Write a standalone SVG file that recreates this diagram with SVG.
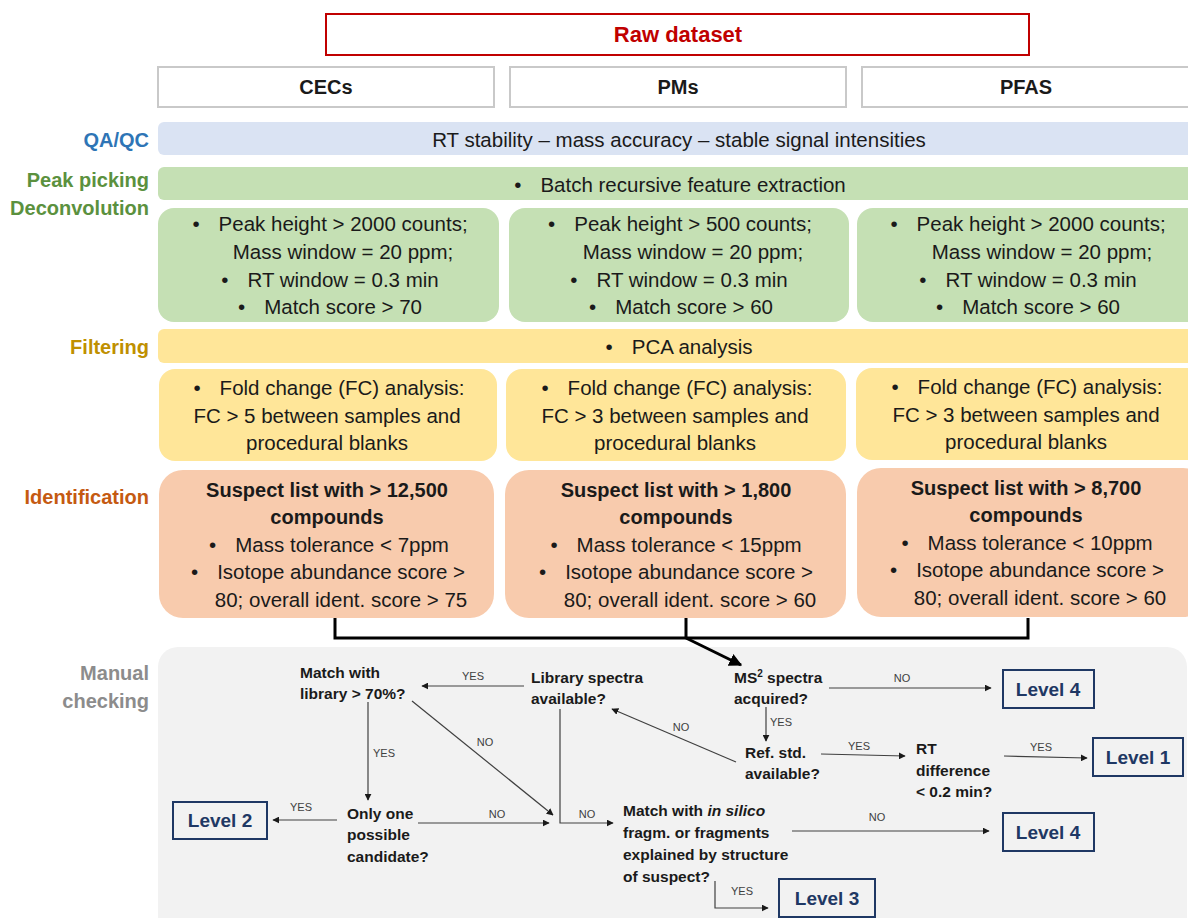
<svg xmlns="http://www.w3.org/2000/svg" width="1188" height="918" viewBox="0 0 1188 918">
<defs>
<style>
text{font-family:"Liberation Sans",Arial,sans-serif;fill:#1a1a1a}
.side{font-size:20px;font-weight:bold;text-anchor:end}
.hdr{font-size:20px;font-weight:bold;text-anchor:middle}
.body{font-size:20.5px;text-anchor:middle}
.bold{font-size:20px;font-weight:bold;text-anchor:middle}
.q{font-size:15.5px;font-weight:bold}
.lbl{font-size:11px;fill:#404040;text-anchor:middle}
.lvl{font-size:19px;font-weight:bold;fill:#1f3864;text-anchor:middle}
.lvbox{fill:none;stroke:#1f3864;stroke-width:2}
.hbox{fill:#fff;stroke:#c9c9c9;stroke-width:2}
.ln{fill:none;stroke:#404040;stroke-width:1.2}
</style>
<marker id="ah" viewBox="0 0 10 10" refX="9" refY="5" markerWidth="7" markerHeight="7" markerUnits="userSpaceOnUse" orient="auto">
<path d="M0,0 L10,5 L0,10 z" fill="#1a1a1a"/>
</marker>
<marker id="ahb" viewBox="0 0 10 10" refX="9" refY="5" markerWidth="13" markerHeight="13" markerUnits="userSpaceOnUse" orient="auto">
<path d="M0,0 L10,5 L0,10 z" fill="#000"/>
</marker>
</defs>
<rect width="1188" height="918" fill="#fff"/>

<!-- side labels -->
<g id="side-labels">
<text class="side" x="149" y="147" style="fill:#2e75b6">QA/QC</text>
<text class="side" x="149" y="187" style="fill:#5b913e">Peak picking</text>
<text class="side" x="149" y="215" style="fill:#5b913e">Deconvolution</text>
<text class="side" x="149" y="354" style="fill:#bf9000">Filtering</text>
<text class="side" x="149" y="504" style="fill:#c55a11">Identification</text>
<text class="side" x="149" y="680" style="fill:#8c8c8c">Manual</text>
<text class="side" x="149" y="708" style="fill:#8c8c8c">checking</text>
</g>

<g id="raw-dataset">
<rect x="326" y="14" width="703" height="41" fill="#fff" stroke="#c00000" stroke-width="2"/>
<text x="678" y="42" text-anchor="middle" style="font-size:22px;font-weight:bold;fill:#c00000">Raw dataset</text>
</g>

<g id="hdr-cecs"><rect class="hbox" x="158" y="67" width="336" height="40"/><text class="hdr" x="326" y="94">CECs</text></g>
<g id="hdr-pms"><rect class="hbox" x="510" y="67" width="336" height="40"/><text class="hdr" x="678" y="94">PMs</text></g>
<g id="hdr-pfas"><rect class="hbox" x="862" y="67" width="340" height="40"/><text class="hdr" x="1026" y="94">PFAS</text></g>

<g id="qaqc">
<rect x="158" y="122" width="1050" height="33" rx="6" fill="#dae3f3"/>
<text class="body" x="679" y="147">RT stability – mass accuracy – stable signal intensities</text>
</g>

<g id="batch">
<rect x="158" y="167" width="1050" height="33" rx="6" fill="#c5e0b4"/>
<text class="body" x="680" y="192">•<tspan dx="19">Batch recursive feature extraction</tspan></text>
</g>

<g id="peak-cecs">
<rect x="158" y="208" width="341" height="114" rx="16" fill="#c5e0b4"/>
<text class="body" x="330" y="231">•<tspan dx="19">Peak height &gt; 2000 counts;</tspan></text>
<text class="body" x="343" y="259">Mass window = 20 ppm;</text>
<text class="body" x="330" y="287">•<tspan dx="19">RT window = 0.3 min</tspan></text>
<text class="body" x="330" y="314">•<tspan dx="19">Match score &gt; 70</tspan></text>
</g>
<g id="peak-pms">
<rect x="509" y="208" width="340" height="114" rx="16" fill="#c5e0b4"/>
<text class="body" x="680" y="231">•<tspan dx="19">Peak height &gt; 500 counts;</tspan></text>
<text class="body" x="693" y="259">Mass window = 20 ppm;</text>
<text class="body" x="679" y="287">•<tspan dx="19">RT window = 0.3 min</tspan></text>
<text class="body" x="681" y="314">•<tspan dx="19">Match score &gt; 60</tspan></text>
</g>
<g id="peak-pfas">
<rect x="857" y="208" width="350" height="114" rx="16" fill="#c5e0b4"/>
<text class="body" x="1028" y="231">•<tspan dx="19">Peak height &gt; 2000 counts;</tspan></text>
<text class="body" x="1042" y="259">Mass window = 20 ppm;</text>
<text class="body" x="1028" y="287">•<tspan dx="19">RT window = 0.3 min</tspan></text>
<text class="body" x="1028" y="314">•<tspan dx="19">Match score &gt; 60</tspan></text>
</g>

<g id="pca">
<rect x="158" y="329" width="1050" height="34" rx="6" fill="#ffe699"/>
<text class="body" x="679" y="354">•<tspan dx="19">PCA analysis</tspan></text>
</g>

<g id="fc-cecs">
<rect x="159" y="369" width="338" height="92" rx="16" fill="#ffe699"/>
<text class="body" x="329" y="395">•<tspan dx="19">Fold change (FC) analysis:</tspan></text>
<text class="body" x="327" y="423">FC &gt; 5 between samples and</text>
<text class="body" x="327" y="450">procedural blanks</text>
</g>
<g id="fc-pms">
<rect x="506" y="369" width="340" height="92" rx="16" fill="#ffe699"/>
<text class="body" x="677" y="395">•<tspan dx="19">Fold change (FC) analysis:</tspan></text>
<text class="body" x="675" y="423">FC &gt; 3 between samples and</text>
<text class="body" x="675" y="450">procedural blanks</text>
</g>
<g id="fc-pfas">
<rect x="856" y="368" width="350" height="92" rx="16" fill="#ffe699"/>
<text class="body" x="1027" y="394">•<tspan dx="19">Fold change (FC) analysis:</tspan></text>
<text class="body" x="1026" y="422">FC &gt; 3 between samples and</text>
<text class="body" x="1026" y="449">procedural blanks</text>
</g>

<g id="id-cecs">
<rect x="159" y="470" width="335" height="148" rx="24" fill="#f8cbad"/>
<text class="bold" x="327" y="497">Suspect list with &gt; 12,500</text>
<text class="bold" x="327" y="524">compounds</text>
<text class="body" x="329" y="552">•<tspan dx="19">Mass tolerance &lt; 7ppm</tspan></text>
<text class="body" x="328" y="579">•<tspan dx="19">Isotope abundance score &gt;</tspan></text>
<text class="body" x="341" y="607">80; overall ident. score &gt; 75</text>
</g>
<g id="id-pms">
<rect x="505" y="470" width="341" height="148" rx="24" fill="#f8cbad"/>
<text class="bold" x="676" y="497">Suspect list with &gt; 1,800</text>
<text class="bold" x="676" y="524">compounds</text>
<text class="body" x="676" y="552">•<tspan dx="19">Mass tolerance &lt; 15ppm</tspan></text>
<text class="body" x="676" y="579">•<tspan dx="19">Isotope abundance score &gt;</tspan></text>
<text class="body" x="690" y="607">80; overall ident. score &gt; 60</text>
</g>
<g id="id-pfas">
<rect x="857" y="468" width="350" height="149" rx="24" fill="#f8cbad"/>
<text class="bold" x="1026" y="495">Suspect list with &gt; 8,700</text>
<text class="bold" x="1026" y="522">compounds</text>
<text class="body" x="1027" y="550">•<tspan dx="19">Mass tolerance &lt; 10ppm</tspan></text>
<text class="body" x="1027" y="577">•<tspan dx="19">Isotope abundance score &gt;</tspan></text>
<text class="body" x="1040" y="605">80; overall ident. score &gt; 60</text>
</g>

<g id="manual-panel">
<rect x="158" y="647" width="1029" height="300" rx="20" fill="#f2f2f2"/>
</g>

<g id="connectors">
<path d="M335,618 V638 H1028 V618 M686,618 V638" fill="none" stroke="#000" stroke-width="3"/>
<line x1="686" y1="638" x2="741" y2="665" stroke="#000" stroke-width="3" marker-end="url(#ahb)"/>
<line class="ln" x1="524" y1="686" x2="422" y2="686" marker-end="url(#ah)"/>
<line class="ln" x1="368" y1="702" x2="368" y2="800" marker-end="url(#ah)"/>
<line class="ln" x1="412" y1="701" x2="553" y2="815" marker-end="url(#ah)"/>
<line class="ln" x1="337" y1="820" x2="273" y2="820" marker-end="url(#ah)"/>
<line class="ln" x1="418" y1="823" x2="549" y2="823" marker-end="url(#ah)"/>
<path class="ln" d="M560,709 V823 H613" marker-end="url(#ah)"/>
<line class="ln" x1="829" y1="688" x2="991" y2="688" marker-end="url(#ah)"/>
<line class="ln" x1="766" y1="707" x2="766" y2="741" marker-end="url(#ah)"/>
<line class="ln" x1="736" y1="762" x2="612" y2="709" marker-end="url(#ah)"/>
<line class="ln" x1="821" y1="754" x2="905" y2="756" marker-end="url(#ah)"/>
<line class="ln" x1="1004" y1="756" x2="1087" y2="758" marker-end="url(#ah)"/>
<line class="ln" x1="792" y1="831" x2="989" y2="831" marker-end="url(#ah)"/>
<path class="ln" d="M715,881 V908 H768" marker-end="url(#ah)"/>
<text class="lbl" x="473" y="680">YES</text>
<text class="lbl" x="384" y="757">YES</text>
<text class="lbl" x="485" y="746">NO</text>
<text class="lbl" x="301" y="811">YES</text>
<text class="lbl" x="497" y="818">NO</text>
<text class="lbl" x="587" y="818">NO</text>
<text class="lbl" x="902" y="682">NO</text>
<text class="lbl" x="781" y="726">YES</text>
<text class="lbl" x="681" y="731">NO</text>
<text class="lbl" x="859" y="750">YES</text>
<text class="lbl" x="1041" y="751">YES</text>
<text class="lbl" x="877" y="821">NO</text>
<text class="lbl" x="742" y="895">YES</text>
</g>

<g id="q-match-library"><text class="q" x="300" y="678">Match with</text><text class="q" x="300" y="699">library &gt; 70%?</text></g>
<g id="q-library-spectra"><text class="q" x="531" y="683">Library spectra</text><text class="q" x="531" y="704">available?</text></g>
<g id="q-ms2"><text class="q" x="734" y="683">MS<tspan dy="-6" style="font-size:10px">2</tspan><tspan dy="6"> spectra</tspan></text><text class="q" x="734" y="704">acquired?</text></g>
<g id="q-ref-std"><text class="q" x="745" y="758">Ref. std.</text><text class="q" x="745" y="779">available?</text></g>
<g id="q-rt"><text class="q" x="916" y="754">RT</text><text class="q" x="916" y="776">difference</text><text class="q" x="916" y="797">&lt; 0.2 min?</text></g>
<g id="q-only-one"><text class="q" x="347" y="819">Only one</text><text class="q" x="347" y="840">possible</text><text class="q" x="347" y="862">candidate?</text></g>
<g id="q-in-silico"><text class="q" x="623" y="816">Match with <tspan font-style="italic">in silico</tspan></text><text class="q" x="623" y="838">fragm. or fragments</text><text class="q" x="623" y="860">explained by structure</text><text class="q" x="623" y="882">of suspect?</text></g>

<g id="level4-top"><rect class="lvbox" x="1003" y="670" width="91" height="38"/><text class="lvl" x="1048" y="696">Level 4</text></g>
<g id="level1"><rect class="lvbox" x="1093" y="738" width="90" height="38"/><text class="lvl" x="1138" y="764">Level 1</text></g>
<g id="level4-bottom"><rect class="lvbox" x="1003" y="813" width="91" height="38"/><text class="lvl" x="1048" y="839">Level 4</text></g>
<g id="level3"><rect class="lvbox" x="779" y="879" width="96" height="38"/><text class="lvl" x="827" y="905">Level 3</text></g>
<g id="level2"><rect class="lvbox" x="173" y="802" width="94" height="37"/><text class="lvl" x="220" y="827">Level 2</text></g>
</svg>
